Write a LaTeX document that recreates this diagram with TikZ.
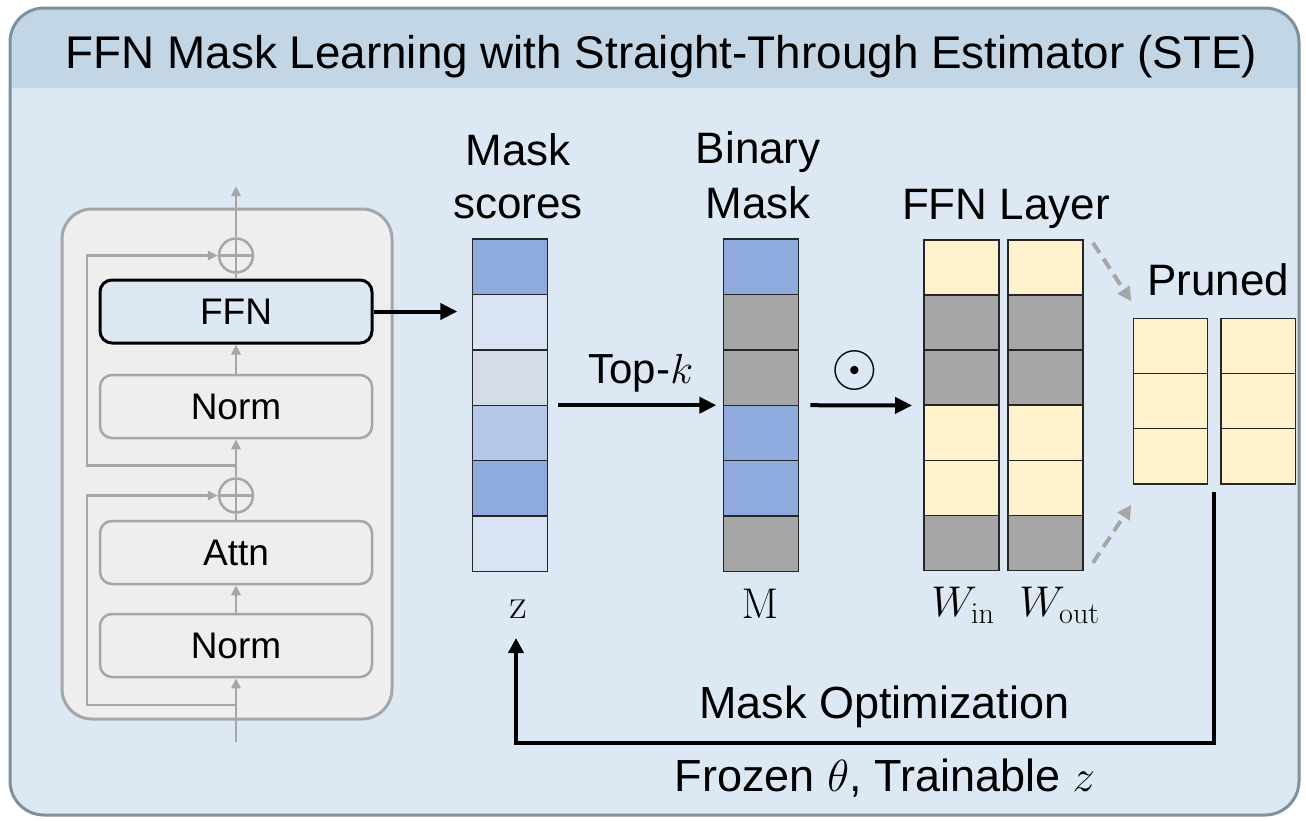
\RequirePackage{fix-cm}
\documentclass[tikz,border=0pt]{standalone}
\usepackage[no-math]{fontspec}
\setmainfont{Liberation Sans}
\usetikzlibrary{arrows.meta,calc}

\definecolor{framecol}{HTML}{7D919E}
\definecolor{bandcol}{HTML}{C3D6E5}
\definecolor{bodycol}{HTML}{DCE9F4}
\definecolor{blockfill}{HTML}{EEEEEE}
\definecolor{blockline}{HTML}{A6A6A6}
\definecolor{cellblue}{HTML}{8FAADC}
\definecolor{cellpale}{HTML}{DAE3F3}
\definecolor{cellgrayblue}{HTML}{D6DCE5}
\definecolor{cellmid}{HTML}{B4C7E7}
\definecolor{cellgray}{HTML}{A6A6A6}
\definecolor{cellyellow}{HTML}{FFF2CC}

\newcommand{\sz}[2]{\fontsize{#1}{#2}\selectfont}

\begin{document}
\begin{tikzpicture}[x=1pt,y=-1pt,
  cell/.style={draw=black!85, line width=1.4pt, minimum width=75pt, minimum height=55.4pt, inner sep=0pt, outer sep=0pt},
  pcell/.style={cell, minimum width=74.5pt, minimum height=55.2pt, fill=cellyellow},
  blk/.style={draw=blockline, line width=2.5pt, rounded corners=12pt, fill=blockfill, minimum width=272pt, minimum height=63pt, inner sep=0pt, font=\sz{37}{40}},
  ffnblk/.style={blk, draw=black, line width=3pt, fill=bodycol},
  addop/.style={circle, draw=blockline, line width=2.5pt, minimum size=34pt, inner sep=0pt,
    path picture={\draw[blockline, line width=2.5pt]
      (path picture bounding box.north) -- (path picture bounding box.south)
      (path picture bounding box.west) -- (path picture bounding box.east);}},
  gline/.style={draw=blockline, line width=2.5pt},
  garr/.style={gline, -{Triangle[length=10pt,width=9pt]}},
  karr/.style={draw=black, line width=4pt, -{Triangle[length=17pt,width=16pt]}},
  dasharr/.style={draw=blockline, line width=4pt, dash pattern=on 12pt off 7pt, -{Triangle[length=14pt,width=14pt]}},
  lbl/.style={anchor=base, inner sep=0pt, font=\sz{44}{50}},
  blbl/.style={anchor=base, inner sep=0pt, font=\sz{45}{50}},
  mlbl/.style={anchor=base, inner sep=0pt, font=\sz{43}{48}}
]
\useasboundingbox (0,0) rectangle (1306,820);

% outer panel with title band
\begin{scope}
  \clip[rounded corners=34pt] (10,8) rectangle (1299,815);
  \fill[bodycol] (10,8) rectangle (1299,815);
  \fill[bandcol] (10,8) rectangle (1299,88);
\end{scope}
\draw[framecol, line width=3pt, rounded corners=34pt] (10,8) rectangle (1299,815);
\node[anchor=base, inner sep=0pt, font=\sz{45.8}{50}] (title) at (661.5,68)
  {FFN Mask Learning with Straight-Through Estimator (STE)};

% transformer block
\node[draw=blockline, line width=3pt, fill=blockfill, rounded corners=30pt,
      minimum width=330pt, minimum height=510pt, inner sep=0pt] (block) at (227,464) {};
\node[ffnblk] (ffn)  at (236,311.5) {FFN};
\node[blk]    (n1)   at (236,406.5) {Norm};
\node[blk]    (attn) at (236,552.5) {Attn};
\node[blk]    (n2)   at (236,645.5) {Norm};
\node[addop]  (o1)   at (236,255.5) {};
\node[addop]  (o2)   at (236,495.5) {};
\coordinate (out) at (236,186);
\coordinate (in)  at (236,742);
\coordinate (r1)  at (236,705);
\coordinate (r2)  at (236,465.5);
\coordinate (rl)  at (87,0);

\draw[garr]  (o1.north) -- (out);
\draw[gline] (o1.south) -- (ffn.north);
\draw[garr]  (n1.north) -- (ffn.south);
\draw[garr]  (o2.north) -- (n1.south);
\draw[gline] (o2.south) -- (attn.north);
\draw[garr]  (n2.north) -- (attn.south);
\draw[garr]  (in) -- (n2.south);
\draw[garr]  (r1) -- (r1 -| rl) |- (o2.west);
\draw[garr]  (r2) -- (r2 -| rl) |- (o1.west);

% mask scores z
\foreach \c [count=\i] in {cellblue,cellpale,cellgrayblue,cellmid,cellblue,cellpale}
  \node[cell, fill=\c] (z\i) at (509.8,{239+55.4*(\i-0.5)}) {};
% binary mask M
\foreach \c [count=\i] in {cellblue,cellgray,cellgray,cellblue,cellblue,cellgray}
  \node[cell, fill=\c] (m\i) at (760.8,{239+55.4*(\i-0.5)}) {};
% FFN layer weights
\foreach \c [count=\i] in {cellyellow,cellgray,cellgray,cellyellow,cellyellow,cellgray}{
  \node[cell, fill=\c] (wi\i) at (961.5,{240+55.1*(\i-0.5)}) {};
  \node[cell, fill=\c] (wo\i) at (1045.5,{240+55.1*(\i-0.5)}) {};
}
% pruned weights
\foreach \i in {1,2,3}{
  \node[pcell] (p\i) at (1170.5,{318.3+55.2*(\i-0.5)}) {};
  \node[pcell] (q\i) at (1258.2,{318.3+55.2*(\i-0.5)}) {};
}

% headings
\node[lbl] (hz1) at (518,165)   {Mask};
\node[lbl] (hz2) at (518,218.3) {scores};
\node[lbl] (hm1) at (758.3,163.5) {Binary};
\node[lbl] (hm2) at (758.3,218.3) {Mask};
\node[lbl] (hw)  at (1006,219) {FFN Layer};
\node[lbl] (hp)  at (1218,295) {Pruned};

% symbols under the columns
\node[mlbl] (zl)  at (518,618)   {$\mathrm{z}$};
\node[mlbl] (ml)  at (760,618)   {$\mathrm{M}$};
\node[mlbl] (wil) at (963,616.7) {$W_{\mathrm{in}}$};
\node[mlbl] (wol) at (1059.5,616.7) {$W_{\mathrm{out}}$};

% operations
\draw[karr, shorten >=15pt] (ffn.east) -- (ffn.east -| z1.west);
\draw[karr, shorten <=11pt, shorten >=7pt] (z3.south east) -- (m3.south west);
\node[anchor=base, inner sep=0pt, font=\sz{42}{46}] (topk) at (640.8,383.3) {Top-$k$};
\draw[karr, shorten <=12pt, shorten >=12pt] (m3.south east) -- (wi3.south west);
\node[inner sep=0pt, font=\sz{60}{64}] (had) at (855,370) {$\odot$};

% pruning
\draw[dasharr] ($(wo1.north east)+(10,3)$) -- ($(p1.north west)+(-2,-17)$);
\draw[dasharr] ($(wo6.south east)+(10,-8)$) -- ($(p3.south west)+(-2,21)$);

% optimisation loop
\coordinate (fbstart) at ($(p3.south east)!0.5!(q3.south west)+(0,8)$);
\coordinate (fbbot) at (0,743);
\coordinate (fbend) at (516,638);
\draw[karr, line width=4pt, -{Triangle[length=15pt,width=15pt]}]
  (fbstart) -- (fbstart |- fbbot) -| (fbend);
\node[blbl] (opt) at (884.5,718.3) {Mask Optimization};
\node[blbl] (frz) at (885,791.7) {Frozen $\theta$, Trainable $z$};
\end{tikzpicture}
\end{document}
